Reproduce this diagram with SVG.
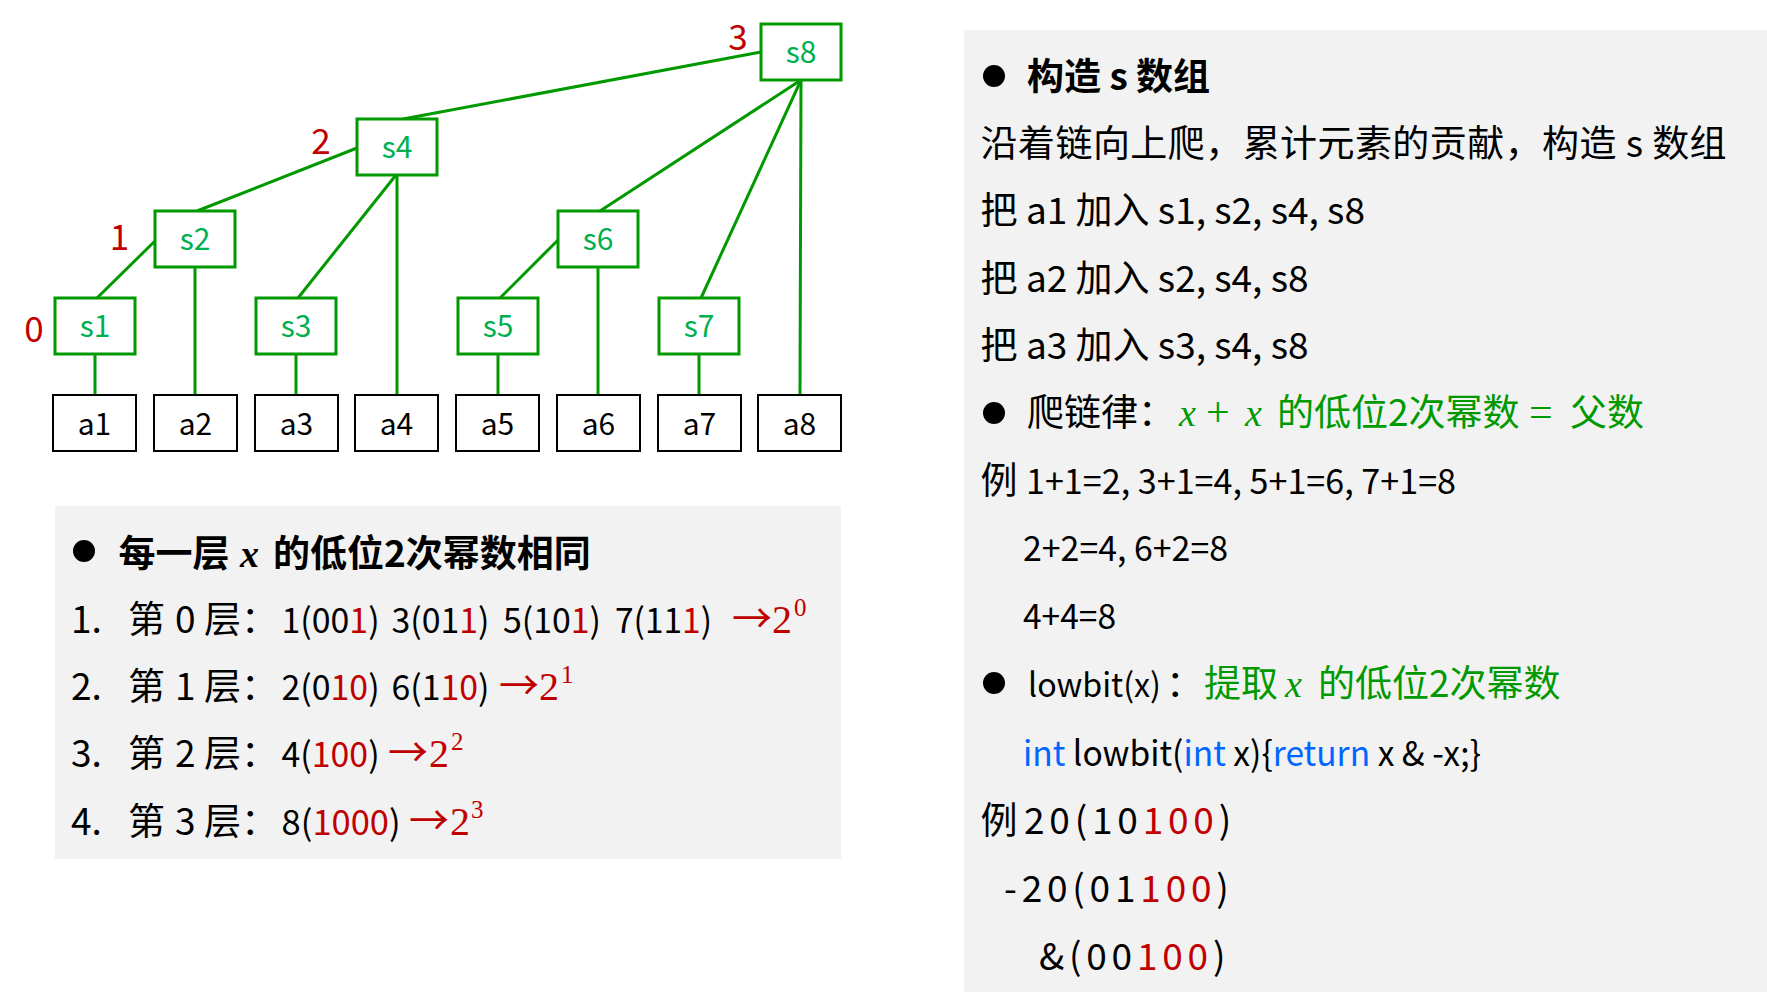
<svg xmlns="http://www.w3.org/2000/svg" width="1767" height="999" viewBox="0 0 1767 999">
<style>
.panel{fill:#F2F2F2}
.sbox{fill:#fff;stroke:#009900;stroke-width:3}
.abox{fill:#fff;stroke:#000;stroke-width:2}
.conn line{stroke:#009900;stroke-width:3}
.slab{font-family:"Noto Sans CJK SC","Noto Sans",sans-serif;font-size:30px;fill:#00B050;text-anchor:middle}
.alab{font-family:"Noto Sans CJK SC","Noto Sans",sans-serif;font-size:30px;fill:#000;text-anchor:middle}
.lvl{font-family:"Noto Sans CJK SC","Noto Sans",sans-serif;font-size:35px;fill:#C00000;text-anchor:middle}
.t{font-family:"Noto Sans CJK SC","Noto Sans",sans-serif;font-size:37px;fill:#000}
.n{font-size:34.5px}
.b{font-weight:bold}
.r{fill:#C00000}
.g{fill:#009900}
.bl{fill:#0066FF}
.m{font-family:"Liberation Serif",serif;font-style:italic;font-size:38px}
.arr{font-family:"Noto Sans CJK SC",sans-serif;font-size:40px;fill:#C00000}
.sr{font-family:"Liberation Serif",serif;font-size:40px;fill:#C00000}
.sup{font-family:"Liberation Serif",serif;font-size:25px;fill:#C00000}
.op{font-family:"Liberation Serif",serif;font-size:42px}
.sp{letter-spacing:4.8px}
</style>
<rect width="1767" height="999" fill="#fff"/>

<g id="connectors" class="conn">
<line x1="95" y1="354" x2="95" y2="395"/>
<line x1="97" y1="298" x2="156" y2="240"/>
<line x1="195" y1="267" x2="195" y2="395"/>
<line x1="197" y1="211" x2="357" y2="148"/>
<line x1="296" y1="354" x2="296" y2="395"/>
<line x1="298" y1="298" x2="396" y2="175"/>
<line x1="397" y1="175" x2="397" y2="395"/>
<line x1="403" y1="119" x2="761" y2="52"/>
<line x1="498" y1="354" x2="498" y2="395"/>
<line x1="500" y1="298" x2="558" y2="240"/>
<line x1="598" y1="267" x2="598" y2="395"/>
<line x1="600" y1="211" x2="801" y2="80"/>
<line x1="699" y1="354" x2="699" y2="395"/>
<line x1="701" y1="298" x2="801" y2="80"/>
<line x1="801" y1="80" x2="800" y2="395"/>
</g>

<g id="s1"><rect class="sbox" x="55" y="298" width="80" height="56"/><text class="slab" x="95" y="337">s1</text></g>
<g id="s2"><rect class="sbox" x="155" y="211" width="80" height="56"/><text class="slab" x="195" y="250">s2</text></g>
<g id="s3"><rect class="sbox" x="256" y="298" width="80" height="56"/><text class="slab" x="296" y="337">s3</text></g>
<g id="s4"><rect class="sbox" x="357" y="119" width="80" height="56"/><text class="slab" x="397" y="158">s4</text></g>
<g id="s5"><rect class="sbox" x="458" y="298" width="80" height="56"/><text class="slab" x="498" y="337">s5</text></g>
<g id="s6"><rect class="sbox" x="558" y="211" width="80" height="56"/><text class="slab" x="598" y="250">s6</text></g>
<g id="s7"><rect class="sbox" x="659" y="298" width="80" height="56"/><text class="slab" x="699" y="337">s7</text></g>
<g id="s8"><rect class="sbox" x="761" y="24" width="80" height="56"/><text class="slab" x="801" y="63">s8</text></g>

<g id="a1"><rect class="abox" x="53" y="395" width="83" height="56"/><text class="alab" x="94.5" y="435">a1</text></g>
<g id="a2"><rect class="abox" x="154" y="395" width="83" height="56"/><text class="alab" x="195.5" y="435">a2</text></g>
<g id="a3"><rect class="abox" x="255" y="395" width="83" height="56"/><text class="alab" x="296.5" y="435">a3</text></g>
<g id="a4"><rect class="abox" x="355" y="395" width="83" height="56"/><text class="alab" x="396.5" y="435">a4</text></g>
<g id="a5"><rect class="abox" x="456" y="395" width="83" height="56"/><text class="alab" x="497.5" y="435">a5</text></g>
<g id="a6"><rect class="abox" x="557" y="395" width="83" height="56"/><text class="alab" x="598.5" y="435">a6</text></g>
<g id="a7"><rect class="abox" x="658" y="395" width="83" height="56"/><text class="alab" x="699.5" y="435">a7</text></g>
<g id="a8"><rect class="abox" x="758" y="395" width="83" height="56"/><text class="alab" x="799.5" y="435">a8</text></g>

<g id="levels">
<text class="lvl" x="738" y="50">3</text>
<text class="lvl" x="321" y="154">2</text>
<text class="lvl" x="119.5" y="250">1</text>
<text class="lvl" x="34" y="342">0</text>
</g>

<g id="left-panel">
<rect class="panel" x="55" y="506" width="786" height="353"/>
<circle cx="84" cy="551" r="11"/>
<text class="t b" y="567"><tspan x="118.5">每一层</tspan><tspan class="m" x="240">x</tspan><tspan x="273">的低位2次幂数相同</tspan></text>

<text class="t" y="633"><tspan x="71">1.</tspan><tspan x="128">第</tspan><tspan x="175">0</tspan><tspan x="204">层：</tspan></text>
<text class="t n" x="281.6" y="633" textLength="98" lengthAdjust="spacingAndGlyphs">1(00<tspan class="r">1</tspan>)</text>
<text class="t n" x="391.5" y="633" textLength="98" lengthAdjust="spacingAndGlyphs">3(01<tspan class="r">1</tspan>)</text>
<text class="t n" x="503" y="633" textLength="98" lengthAdjust="spacingAndGlyphs">5(10<tspan class="r">1</tspan>)</text>
<text class="t n" x="615" y="633" textLength="97" lengthAdjust="spacingAndGlyphs">7(11<tspan class="r">1</tspan>)</text>
<text class="arr" x="732" y="633">→</text><text class="sr" x="772" y="633">2</text><text class="sup" x="794" y="616">0</text>

<text class="t" y="700"><tspan x="71">2.</tspan><tspan x="128">第</tspan><tspan x="175">1</tspan><tspan x="204">层：</tspan></text>
<text class="t n" x="281.6" y="700" textLength="98" lengthAdjust="spacingAndGlyphs">2(0<tspan class="r">10</tspan>)</text>
<text class="t n" x="391.5" y="700" textLength="98" lengthAdjust="spacingAndGlyphs">6(1<tspan class="r">10</tspan>)</text>
<text class="arr" x="499" y="700">→</text><text class="sr" x="539" y="700">2</text><text class="sup" x="561" y="683">1</text>

<text class="t" y="767"><tspan x="71">3.</tspan><tspan x="128">第</tspan><tspan x="175">2</tspan><tspan x="204">层：</tspan></text>
<text class="t n" x="281.6" y="767" textLength="98" lengthAdjust="spacingAndGlyphs">4(<tspan class="r">100</tspan>)</text>
<text class="arr" x="388" y="767">→</text><text class="sr" x="429" y="767">2</text><text class="sup" x="451" y="750">2</text>

<text class="t" y="835"><tspan x="71">4.</tspan><tspan x="128">第</tspan><tspan x="175">3</tspan><tspan x="204">层：</tspan></text>
<text class="t n" x="281.6" y="835" textLength="119" lengthAdjust="spacingAndGlyphs">8(<tspan class="r">1000</tspan>)</text>
<text class="arr" x="409" y="835">→</text><text class="sr" x="450" y="835">2</text><text class="sup" x="471" y="818">3</text>
</g>

<g id="right-panel">
<rect class="panel" x="964" y="30" width="803" height="962"/>
<circle cx="994" cy="76" r="11"/>
<text class="t b" x="1027" y="90">构造 s 数组</text>
<text class="t" x="980.6" y="157" textLength="746" lengthAdjust="spacing">沿着链向上爬，累计元素的贡献，构造 s 数组</text>
<text class="t" x="980.6" y="224">把 a1 加入 s1, s2, s4, s8</text>
<text class="t" x="980.6" y="291.5">把 a2 加入 s2, s4, s8</text>
<text class="t" x="980.6" y="359">把 a3 加入 s3, s4, s8</text>
<circle cx="994" cy="413" r="11"/>
<text class="t" y="426"><tspan x="1027">爬链律：</tspan><tspan class="m g" x="1179">x</tspan><tspan class="op g" x="1206">+</tspan><tspan class="m g" x="1245">x</tspan><tspan class="g" x="1277">的低位2次幂数</tspan><tspan class="op g" x="1529">=</tspan><tspan class="g" x="1570">父数</tspan></text>
<text class="t" x="980.6" y="493.5">例</text>
<text class="t n" x="1026" y="493.5" textLength="430" lengthAdjust="spacingAndGlyphs">1+1=2, 3+1=4, 5+1=6, 7+1=8</text>
<text class="t n" x="1023" y="561" textLength="205" lengthAdjust="spacingAndGlyphs">2+2=4, 6+2=8</text>
<text class="t n" x="1023" y="629" textLength="93" lengthAdjust="spacingAndGlyphs">4+4=8</text>
<circle cx="994" cy="683" r="11"/>
<text class="t" x="1028" y="697" style="font-size:33px" textLength="133" lengthAdjust="spacingAndGlyphs">lowbit(x)</text>
<text class="t" x="1166" y="697">：</text>
<text class="t g" y="697"><tspan x="1204">提取</tspan><tspan class="m" x="1285">x</tspan><tspan x="1318">的低位2次幂数</tspan></text>
<text class="t n" x="1023" y="766" textLength="458" lengthAdjust="spacingAndGlyphs"><tspan class="bl">int</tspan> lowbit(<tspan class="bl">int</tspan> x){<tspan class="bl">return</tspan> x &amp; -x;}</text>
<text class="t" x="980.6" y="834">例</text>
<text class="t sp" x="1024" y="834">20(10<tspan class="r">100</tspan>)</text>
<text class="t sp" x="1004" y="902">-20(01<tspan class="r">100</tspan>)</text>
<text class="t sp" x="1039" y="970">&amp;(00<tspan class="r">100</tspan>)</text>
</g>
</svg>
